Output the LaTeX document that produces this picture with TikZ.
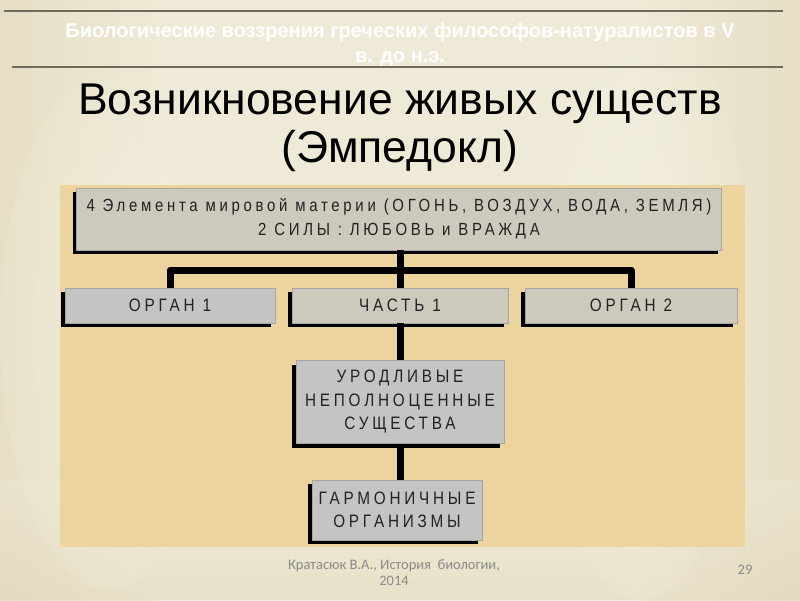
\documentclass[tikz,border=0pt]{standalone}
\usepackage{fontspec}
\setmainfont{Liberation Sans}
\newfontfamily\boxfont[FakeStretch=0.85,LetterSpace=21]{Liberation Sans}
\newfontfamily\footfont{Carlito}
\usetikzlibrary{shadows,calc}
\definecolor{bgbase}{HTML}{EFEAD7}
\definecolor{bgdark}{HTML}{DFD5B6}
\definecolor{panel}{HTML}{EDD49F}
\definecolor{boxgray}{HTML}{CDC9BD}
\definecolor{boxlight}{HTML}{C4C4C2}
\definecolor{footgray}{HTML}{8A8A8A}
\definecolor{rulegray}{HTML}{6E6A5E}
\definecolor{boxtext}{HTML}{222222}
\tikzset{
  box/.style={draw=gray!70, line width=0.6pt, fill=boxgray, inner sep=0pt,
    align=center, text=boxtext, font=\boxfont\fontsize{18}{23.5}\selectfont,
    general shadow={shadow xshift=-4pt, shadow yshift=-4pt, fill=black}},
  conn/.style={line width=7pt, draw=black, line join=round},
  rulel/.style={line width=1.6pt, draw=rulegray},
}
\begin{document}
\begin{tikzpicture}[x=1pt,y=-1pt]
\useasboundingbox (0,0) rectangle (800,600);
% background
\fill[bgbase] (0,0) rectangle (800,600);
\shade[left color=bgdark, right color=bgbase, opacity=0.55] (0,0) rectangle (160,600);
\shade[left color=bgbase, right color=bgdark, opacity=0.55] (640,0) rectangle (800,600);
\shade[top color=bgbase, bottom color=bgdark, opacity=0.4] (0,480) rectangle (800,600);
\shade[inner color=white, outer color=bgbase, opacity=0.3] (110,330) ellipse (110 and 260);
\shade[inner color=white, outer color=bgbase, opacity=0.3] (640,300) ellipse (110 and 300);
% header
\draw[rulel] (4,11) -- (783,11);
\draw[rulel] (12,67) -- (783,67);
\node[text=white, font=\bfseries\fontsize{20}{25}\selectfont, align=center] (hdr) at (400,45)
  {Биологические воззрения греческих философов-натуралистов в V\\в. до н.э.};
% title
\node[font=\fontsize{44.5}{47.5}\selectfont, align=center] (title) at (400,128)
  {Возникновение живых существ\\(Эмпедокл)};
% panel
\fill[panel] (60,185) rectangle (745,547);
% junction of the connector bar
\coordinate (bar) at (400,270);
% nodes
\node[box, minimum width=645, minimum height=62, font=\boxfont\fontsize{17.6}{24}\selectfont] (top) at (399,219)
  {4 Элемента мировой материи (ОГОНЬ, ВОЗДУХ, ВОДА, ЗЕМЛЯ)\\2 СИЛЫ : ЛЮБОВЬ и ВРАЖДА};
\node[box, fill=boxlight, minimum width=210, minimum height=35] (organ1) at (170,305.5) {ОРГАН 1};
\node[box, minimum width=216, minimum height=35] (chast) at (400,305.5) {ЧАСТЬ 1};
\node[box, minimum width=212, minimum height=35] (organ2) at (631,305.5) {ОРГАН 2};
\node[box, fill=boxlight, minimum width=208, minimum height=83] (urod) at (400,402)
  {УРОДЛИВЫЕ\\НЕПОЛНОЦЕННЫЕ\\СУЩЕСТВА};
\node[box, fill=boxlight, minimum width=170, minimum height=60] (garm) at (397,510)
  {ГАРМОНИЧНЫЕ\\ОРГАНИЗМЫ};
% connectors
\draw[conn] (organ1.north) -- (organ1.north |- bar) -- (organ2.north |- bar) -- (organ2.north);
\draw[conn] (top.south -| chast.north) -- (chast.north);
\draw[conn] (chast.south) -- (urod.north);
\draw[conn] (urod.south) -- (urod.south |- garm.north);
% footer
\node[text=footgray, font=\footfont\fontsize{14.5}{16}\selectfont, align=center] (foot) at (394,573)
  {Кратасюк В.А., История\ \ биологии,\\2014};
\node[text=footgray, font=\footfont\fontsize{14.5}{16}\selectfont] (page) at (745,570) {29};
\end{tikzpicture}
\end{document}
